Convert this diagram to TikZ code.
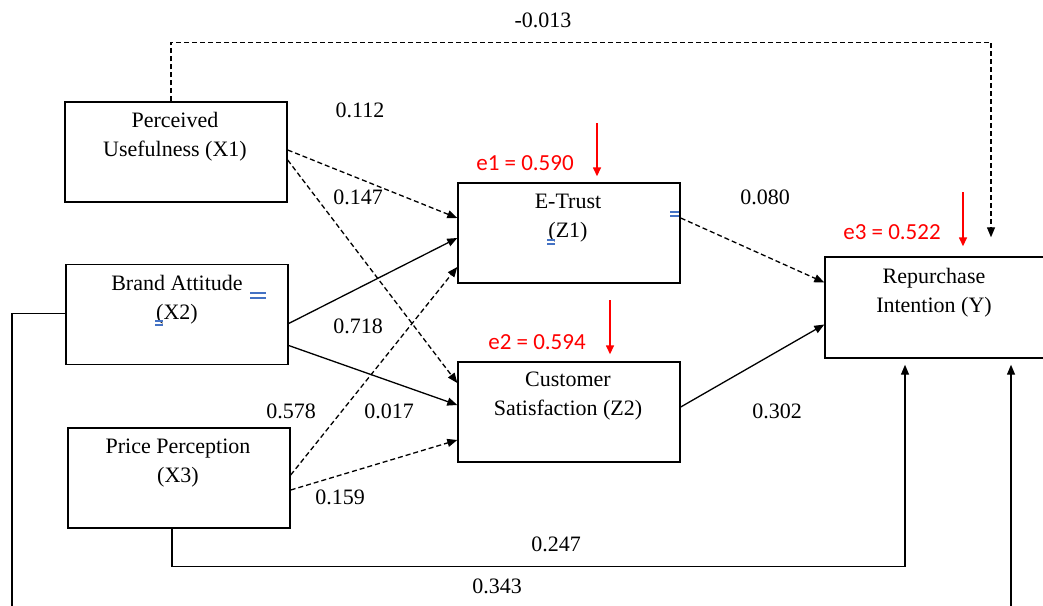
\documentclass[tikz,border=0pt]{standalone}
\usepackage{fontspec}
\setmainfont{Liberation Serif}
\newfontfamily\redfont{Carlito}
\usetikzlibrary{arrows.meta,calc}
\definecolor{wordblue}{RGB}{68,114,196}
\begin{document}
\begin{tikzpicture}[x=1pt,y=-1pt,
  box/.style={draw, line width=1.4pt, minimum width=222pt, minimum height=100pt, inner sep=0pt},
  lbl/.style={font=\fontsize{22}{29}\selectfont, align=center, inner sep=0pt},
  num/.style={font=\fontsize{22}{26}\selectfont, inner sep=0pt},
  err/.style={font=\redfont\fontsize{23}{27}\selectfont, text=red, inner sep=0pt},
  conn/.style={line width=1.3pt, -{Triangle[length=10pt,width=8pt]}},
  dconn/.style={conn, dash pattern=on 5pt off 3pt},
  errarrow/.style={draw=red, line width=1.5pt, -{Triangle[length=9pt,width=8pt]}, red},
  bluemark/.style={draw=wordblue, line width=1.2pt}
]
\useasboundingbox (0,0) rectangle (1043,605);

% boxes
\node[box] (x1) at (176,152) {};
\node[box] (x2) at (177,314.5) {};
\node[box] (x3) at (179,478) {};
\node[box] (z1) at (569,233) {};
\node[box] (z2) at (569,412) {};
\node[box, minimum width=240pt, minimum height=101pt] (y) at (945,307.5) {};

% box texts
\node[lbl] (x1t) at (175,137) {Perceived\\Usefulness (X1)};
\node[lbl] (x2t) at (177,300) {Brand Attitude\\(X2)};
\node[lbl] (x3t) at (178,463) {Price Perception\\(X3)};
\node[lbl] (z1t) at (568,218) {E-Trust\\(Z1)};
\node[lbl] (z2t) at (568,396) {Customer\\Satisfaction (Z2)};
\node[lbl] (yt) at (934,293) {Repurchase\\Intention (Y)};

% blue formatting marks
\draw[bluemark] (250,293) -- (266,293) (250,298) -- (266,298);
\draw[bluemark] (155,321) -- (163,321) (155,325) -- (163,325);
\draw[bluemark] (670,212) -- (679,212) (670,216) -- (679,216);
\draw[bluemark] (547,240) -- (555,240) (547,244) -- (555,244);

% connectors between boxes
\draw[dconn] ([yshift=2pt]x1.east) -- ([yshift=15pt]z1.west);
\draw[dconn] ([yshift=-8pt]x1.east) -- ([yshift=29pt]z2.west);
\draw[conn] ([yshift=-9pt]x2.east) -- ([yshift=-5pt]z1.west);
\draw[conn] ([yshift=-31pt]x2.east) -- ([yshift=7pt]z2.west);
\draw[dconn] ([yshift=3pt]x3.east) -- ([yshift=-34pt]z1.west);
\draw[dconn] ([yshift=-12pt]x3.east) -- ([yshift=-28pt]z2.west);
\draw[dconn] ([yshift=15pt]z1.east) -- ([yshift=25pt]y.west);
\draw[conn] ([yshift=5pt]z2.east) -- ([yshift=-17pt]y.west);

% long routed connectors
\draw[dconn] ([xshift=-5pt]x1.north) -- ++(0,-59) -| ([xshift=46pt,yshift=19pt]y.north);
\draw[conn] ([xshift=-7pt]x3.south) -- ++(0,38) -| ([xshift=-40pt,yshift=-6pt]y.south);
\draw[conn] ([yshift=1pt]x2.west) -| (12,625) -| ([xshift=66pt,yshift=-6pt]y.south);

% error terms
\coordinate (e1s) at (597,123);
\coordinate (e2s) at (610,300);
\coordinate (e3s) at (963,192);
\draw[errarrow] (e1s) -- ([xshift=28pt,yshift=6pt]z1.north);
\draw[errarrow] (e2s) -- ([xshift=41pt,yshift=7pt]z2.north);
\draw[errarrow] (e3s) -- ([xshift=18pt,yshift=10pt]y.north);
\node[err] (e1) at (525,163) {e1 = 0.590};
\node[err] (e2) at (537,342) {e2 = 0.594};
\node[err] (e3) at (892,232) {e3 = 0.522};

% coefficients
\node[num] (c1) at (543,20) {-0.013};
\node[num] (c2) at (360,110) {0.112};
\node[num] (c3) at (358,197) {0.147};
\node[num] (c4) at (358,326) {0.718};
\node[num] (c5) at (291,411) {0.578};
\node[num] (c6) at (389,411) {0.017};
\node[num] (c7) at (340,497) {0.159};
\node[num] (c8) at (765,197) {0.080};
\node[num] (c9) at (777,411) {0.302};
\node[num] (c10) at (556,544) {0.247};
\node[num] (c11) at (497,586) {0.343};
\end{tikzpicture}
\end{document}
